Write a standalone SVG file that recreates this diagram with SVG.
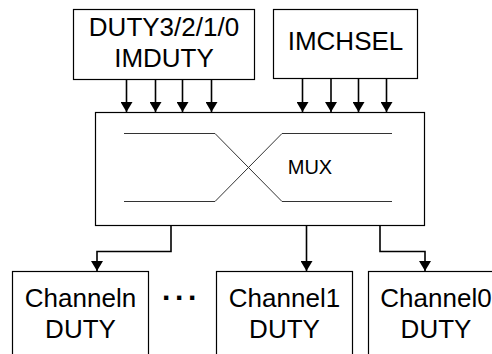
<svg xmlns="http://www.w3.org/2000/svg" width="492" height="354" viewBox="0 0 492 354">
<defs>
<marker id="ah" viewBox="0 0 10 12" refX="10" refY="6" markerWidth="10" markerHeight="12" markerUnits="userSpaceOnUse" orient="auto">
<path d="M0,0 L10,6 L0,12 Z" fill="#000"/>
</marker>
<style>
.box{fill:#fff;stroke:#000;stroke-width:1.2}
.t{font-family:"Liberation Sans",Arial,sans-serif;font-size:26px;fill:#000;text-anchor:middle}
.c{fill:none;stroke:#000;stroke-width:1.6;marker-end:url(#ah)}
.x{fill:none;stroke:#333;stroke-width:1}
</style>
</defs>
<g id="duty-src">
<rect class="box" x="73.5" y="9.5" width="181" height="70"/>
<text class="t" x="164" y="36">DUTY3/2/1/0</text>
<text class="t" x="164" y="67">IMDUTY</text>
</g>
<g id="imchsel">
<rect class="box" x="273.5" y="9.5" width="144" height="69"/>
<text class="t" x="345.5" y="50">IMCHSEL</text>
</g>
<g id="mux">
<rect class="box" x="95.5" y="112.5" width="329" height="113"/>
<path class="x" d="M124,133.5 H215 L282,201.5 H392 M124,201.5 H215 L282,133.5 H392"/>
<text class="t" x="310" y="174" style="font-size:20px">MUX</text>
</g>
<g id="channeln">
<rect class="box" x="12.5" y="271.5" width="136" height="100"/>
<text class="t" x="80.5" y="307">Channeln</text>
<text class="t" x="80.5" y="338">DUTY</text>
</g>
<g id="dots">
<text x="162" y="300" style="font-family:'Liberation Sans',Arial,sans-serif;font-size:30px;font-weight:bold;letter-spacing:4.7px">...</text>
</g>
<g id="channel1">
<rect class="box" x="216.5" y="271.5" width="136" height="100"/>
<text class="t" x="284.5" y="307">Channel1</text>
<text class="t" x="284.5" y="338">DUTY</text>
</g>
<g id="channel0">
<rect class="box" x="368.5" y="271.5" width="136" height="100"/>
<text class="t" x="436" y="307">Channel0</text>
<text class="t" x="436" y="338">DUTY</text>
</g>
<g id="connectors">
<path class="c" d="M126.5,79.5 V112"/>
<path class="c" d="M155.5,79.5 V112"/>
<path class="c" d="M182.5,79.5 V112"/>
<path class="c" d="M211.5,79.5 V112"/>
<path class="c" d="M302.5,78.5 V112"/>
<path class="c" d="M331,78.5 V112"/>
<path class="c" d="M358.5,78.5 V112"/>
<path class="c" d="M386.5,78.5 V112"/>
<path class="c" d="M171,225.5 V251.5 H97 V271"/>
<path class="c" d="M306.5,225.5 V271"/>
<path class="c" d="M380,225.5 V251.5 H425 V271"/>
</g>
</svg>
